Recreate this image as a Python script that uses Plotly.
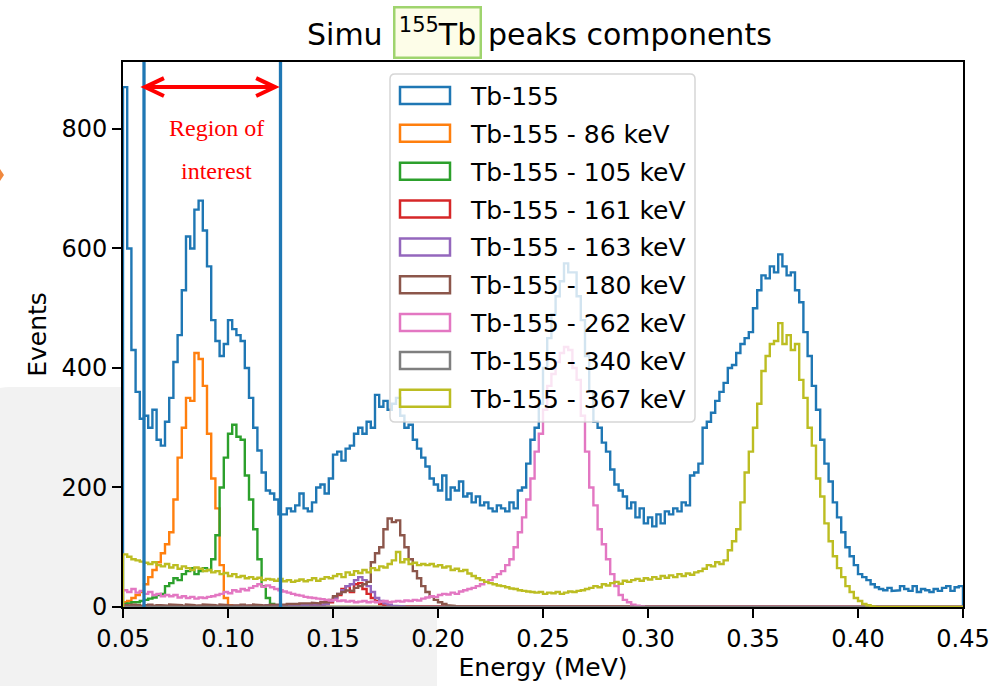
import numpy as np
import plotly.graph_objects as go

# ---------------------------------------------------------------
# Binning of the simulated spectrum (MeV)
# ---------------------------------------------------------------
e_min, e_max, bin_width = 0.05, 0.45, 0.002
edges = np.round(np.arange(e_min, e_max + bin_width / 2, bin_width), 4)
n_bins = len(edges) - 1

# Full Tb-155 spectrum, counts per bin
tb155_total = [
    870, 600, 430, 360, 315, 320, 300, 330, 280, 270,
    310, 350, 410, 455, 530, 620, 600, 665, 680, 630,
    570, 480, 445, 420, 440, 480, 465, 455, 445, 400,
    350, 300, 262, 225, 195, 190, 180, 155, 155, 165,
    160, 170, 190, 165, 160, 175, 200, 205, 190, 215,
    255, 260, 245, 265, 270, 290, 300, 290, 310, 300,
    355, 335, 345, 330, 340, 350, 320, 300, 305, 280,
    265, 250, 235, 215, 205, 195, 220, 180, 200, 195,
    210, 185, 190, 175, 185, 170, 175, 165, 160, 170,
    165, 160, 175, 165, 195, 200, 240, 280, 300, 340,
    400, 450, 490, 520, 545, 575, 560, 560, 520, 480,
    420, 360, 310, 300, 275, 260, 230, 205, 195, 185,
    165, 175, 150, 165, 140, 150, 135, 155, 140, 160,
    155, 165, 160, 175, 170, 220, 225, 240, 300, 310,
    325, 345, 360, 375, 400, 405, 425, 440, 450, 460,
    500, 530, 555, 550, 570, 560, 590, 570, 555, 560,
    530, 510, 460, 420, 370, 330, 280, 240, 210, 175,
    150, 125, 100, 85, 70, 55, 50, 45, 38, 33,
    30, 28, 32, 27, 28, 35, 30, 27, 35, 25,
    30, 28, 25, 30, 27, 32, 35, 27, 33, 35,
]

# Single-line components, counts from the first bin (later bins are empty)
line_86 = [
    8, 10, 15, 20, 25, 38, 50, 62, 75, 90,
    105, 125, 180, 250, 300, 350, 345, 425, 415, 370,
    290, 215, 165, 70, 15, 3,
]
line_105 = [
    5, 6, 8, 8, 10, 12, 14, 16, 20, 22,
    35, 40, 48, 45, 55, 60, 65, 55, 60, 65,
    62, 80, 120, 200, 250, 290, 305, 285, 280, 220,
    180, 130, 80, 35, 15, 5, 2,
]
line_161 = [
    1, 2, 1, 1, 2, 1, 2, 1, 1, 2,
    1, 2, 1, 2, 1, 1, 2, 1, 2, 1,
    2, 1, 2, 2, 1, 2, 1, 2, 2, 1,
    2, 2, 1, 2, 2, 3, 2, 2, 3, 2,
    3, 3, 2, 3, 4, 3, 4, 4, 5, 8,
    15, 20, 30, 35, 25, 38, 40, 30, 22, 15,
    10, 5, 3, 2, 1, 1,
]
line_163 = [
    1, 1, 2, 1, 1, 2, 1, 1, 2, 1,
    2, 1, 1, 2, 1, 2, 1, 1, 2, 1,
    1, 2, 1, 2, 1, 1, 2, 2, 1, 2,
    2, 1, 2, 2, 3, 2, 2, 3, 2, 3,
    3, 2, 3, 3, 4, 3, 4, 4, 5, 10,
    15, 22, 28, 35, 38, 45, 50, 45, 35, 25,
    15, 10, 6, 4, 2, 1, 1,
]
line_180 = [
    3, 2, 4, 3, 2, 3, 4, 2, 3, 3,
    2, 4, 3, 3, 2, 4, 3, 2, 3, 4,
    3, 3, 2, 4, 3, 2, 3, 3, 4, 2,
    3, 4, 3, 2, 3, 4, 3, 3, 4, 5,
    4, 5, 6, 5, 6, 7, 6, 8, 8, 12,
    18, 22, 25, 28, 27, 32, 35, 38, 42, 75,
    90, 100, 130, 148, 142, 145, 120, 100, 80, 60,
    48, 35, 25, 18, 12, 8, 5, 3, 2, 1,
]
line_262 = [
    28, 25, 30, 24, 27, 22, 25, 20, 22, 18,
    20, 18, 20, 16, 18, 15, 17, 14, 16, 15,
    17, 18, 20, 22, 25, 23, 28, 26, 30, 28,
    32, 35, 38, 34, 36, 33, 30, 28, 26, 24,
    22, 20, 19, 17, 16, 15, 14, 13, 12, 11,
    12, 10, 11, 9, 10, 8, 9, 10, 8, 9,
    8, 9, 10, 8, 9, 10, 9, 11, 10, 12,
    11, 14, 16, 18, 17, 20, 22, 21, 24, 22,
    26, 28, 30, 32, 35, 38, 42, 45, 50, 55,
    60, 70, 80, 100, 125, 150, 180, 215, 260, 290,
    330, 370, 390, 410, 425, 435, 430, 400, 380, 320,
    260, 200, 170, 130, 105, 80, 55, 35, 20, 12,
    8, 4, 2, 1,
]
line_340 = []
line_367 = [
    88, 84, 80, 78, 76, 74, 72, 75, 70, 68,
    72, 66, 70, 64, 68, 65, 62, 66, 64, 60,
    62, 58, 60, 55, 57, 52, 55, 50, 52, 48,
    50, 47, 49, 45, 47, 46, 44, 47, 43, 45,
    42, 44, 46, 43, 45, 48, 44, 47, 50, 48,
    52, 55, 50, 58, 54, 60, 57, 62, 58, 65,
    62, 68, 66, 72, 78, 92, 75, 80, 72, 74,
    70, 72, 70, 72, 68, 70, 66, 68, 62, 64,
    60, 62, 56, 52, 48, 45, 42, 40, 38, 36,
    35, 33, 31, 30, 28, 27, 26, 25, 24, 25,
    22, 24, 23, 25, 22, 24, 26, 25, 27, 28,
    30, 32, 35, 33, 38, 36, 40, 42, 39, 44,
    42, 45, 47, 44, 48, 46, 50, 47, 52, 49,
    53, 50, 55, 52, 56, 54, 58, 60, 64, 70,
    68, 75, 72, 78, 95, 110, 130, 175, 225, 260,
    300, 340, 395, 420, 440, 445, 475, 440, 455, 430,
    440, 380, 350, 300, 270, 215, 185, 140, 110, 85,
    65, 50, 35, 25, 15, 10, 5, 3, 1,
]

series_names = [
    "Tb-155", "Tb-155 - 86 keV", "Tb-155 - 105 keV", "Tb-155 - 161 keV",
    "Tb-155 - 163 keV", "Tb-155 - 180 keV", "Tb-155 - 262 keV",
    "Tb-155 - 340 keV", "Tb-155 - 367 keV",
]
series_counts = [tb155_total, line_86, line_105, line_161, line_163,
                 line_180, line_262, line_340, line_367]
series_colors = ["#1f77b4", "#ff7f0e", "#2ca02c", "#d62728", "#9467bd",
                 "#8c564b", "#e377c2", "#7f7f7f", "#bcbd22"]

# Energy window of interest (MeV)
roi_bounds = [0.06, 0.125]

x_ticks = [0.05, 0.10, 0.15, 0.20, 0.25, 0.30, 0.35, 0.40, 0.45]
y_ticks = [0, 200, 400, 600, 800]
y_max = 912

# ---------------------------------------------------------------
# Geometry helpers (plot area in page pixels)
# ---------------------------------------------------------------
W, H = 1008, 686
PL, PR, PT, PB = 123, 963, 62, 607


def fx(px):
    return (px - PL) / (PR - PL)


def fy(py):
    return (PB - py) / (PB - PT)


def rounded_rect(x0, y0, x1, y1, r):
    pts = [
        f"M {fx(x0 + r)},{fy(y0)}", f"L {fx(x1 - r)},{fy(y0)}",
        f"Q {fx(x1)},{fy(y0)} {fx(x1)},{fy(y0 + r)}", f"L {fx(x1)},{fy(y1 - r)}",
        f"Q {fx(x1)},{fy(y1)} {fx(x1 - r)},{fy(y1)}", f"L {fx(x0 + r)},{fy(y1)}",
        f"Q {fx(x0)},{fy(y1)} {fx(x0)},{fy(y1 - r)}", f"L {fx(x0)},{fy(y0 + r)}",
        f"Q {fx(x0)},{fy(y0)} {fx(x0 + r)},{fy(y0)}", "Z",
    ]
    return " ".join(pts)


def step_outline(counts):
    c = np.zeros(n_bins)
    c[:len(counts)] = counts
    xs = np.repeat(edges, 2)
    ys = np.concatenate([[0.0], np.repeat(c, 2), [0.0]])
    return xs, ys


FONT = "DejaVu Sans"
fig = go.Figure()

for name, counts, color in zip(series_names, series_counts, series_colors):
    xs, ys = step_outline(counts)
    fig.add_trace(go.Scatter(
        x=xs, y=ys, mode="lines", name=name,
        line=dict(color=color, width=2.4),
        showlegend=False, hoverinfo="skip",
    ))

shapes = []
# light panel behind the lower-left corner of the page
shapes.append(dict(type="path", xref="paper", yref="paper", layer="below",
                   path=rounded_rect(-20, 387, 437, 720, 30),
                   fillcolor="#f2f2f2", line=dict(width=0)))
shapes.append(dict(type="rect", xref="paper", yref="paper", layer="below",
                   x0=0, x1=1, y0=0, y1=1, fillcolor="white", line=dict(width=0)))
# small orange pointer at the left margin
shapes.append(dict(type="path", xref="paper", yref="paper", layer="above",
                   path=f"M {fx(0)},{fy(169)} L {fx(4)},{fy(175)} L {fx(0)},{fy(181)} Z",
                   fillcolor="#f0883e", line=dict(width=0)))

# window boundaries
for xb in roi_bounds:
    shapes.append(dict(type="line", xref="x", yref="paper", layer="above",
                       x0=xb, x1=xb, y0=0, y1=1,
                       line=dict(color="#1f77b4", width=3.3)))

# red double-headed arrow across the window
arrow_y = 870
arrow_x = [0.0605, 0.1224]
head_len, head_half = 0.0090, 15
red_path = (
    f"M {arrow_x[0]},{arrow_y} L {arrow_x[1]},{arrow_y} "
    f"M {arrow_x[0] + head_len},{arrow_y + head_half} L {arrow_x[0]},{arrow_y} "
    f"L {arrow_x[0] + head_len},{arrow_y - head_half} "
    f"M {arrow_x[1] - head_len},{arrow_y + head_half} L {arrow_x[1]},{arrow_y} "
    f"L {arrow_x[1] - head_len},{arrow_y - head_half}"
)
shapes.append(dict(type="path", xref="x", yref="y", layer="above",
                   path=red_path, line=dict(color="red", width=4)))

# legend frame and patches
shapes.append(dict(type="path", xref="paper", yref="paper", layer="above",
                   path=rounded_rect(390, 74, 695, 422, 5),
                   fillcolor="rgba(255,255,255,0.8)",
                   line=dict(color="rgba(204,204,204,0.8)", width=1.5)))
row0, row_step = 95.5, 37.85
annotations = []
for k, (name, color) in enumerate(zip(series_names, series_colors)):
    yc = row0 + k * row_step
    shapes.append(dict(type="rect", xref="paper", yref="paper", layer="above",
                       x0=fx(400), x1=fx(450), y0=fy(yc + 8.5), y1=fy(yc - 8.5),
                       fillcolor="rgba(0,0,0,0)", line=dict(color=color, width=2.5)))
    annotations.append(dict(xref="paper", yref="paper", x=fx(468), y=fy(yc + 1),
                            xanchor="left", yanchor="middle", text=name,
                            showarrow=False, font=dict(family=FONT, size=25, color="black")))

# title pieces
annotations.append(dict(xref="paper", yref="paper", x=fx(385), y=fy(35),
                        xanchor="right", yanchor="middle", text="Simu", showarrow=False,
                        font=dict(family=FONT, size=30, color="black")))
annotations.append(dict(xref="paper", yref="paper", x=fx(437.5), y=fy(32.5),
                        xanchor="center", yanchor="middle", text="<sup>155</sup>Tb",
                        showarrow=False, width=84, height=48, borderpad=0,
                        bgcolor="#fdfde8", bordercolor="#9fd46e", borderwidth=2.5,
                        font=dict(family=FONT, size=30, color="black")))
annotations.append(dict(xref="paper", yref="paper", x=fx(486), y=fy(35),
                        xanchor="left", yanchor="middle", text="peaks components",
                        showarrow=False, font=dict(family=FONT, size=30, color="black")))

# window label
annotations.append(dict(xref="x", yref="y", x=0.0943, y=802, text="Region of",
                        showarrow=False, xanchor="center", yanchor="middle",
                        font=dict(family="Liberation Serif", size=24, color="red")))
annotations.append(dict(xref="x", yref="y", x=0.0943, y=729, text="interest",
                        showarrow=False, xanchor="center", yanchor="middle",
                        font=dict(family="Liberation Serif", size=24, color="red")))

axis_common = dict(
    showline=True, linecolor="black", linewidth=2, mirror=True,
    ticks="outside", ticklen=9, tickwidth=2, tickcolor="black",
    showgrid=False, zeroline=False, automargin=False,
    tickfont=dict(family=FONT, size=24, color="black"),
)

fig.update_layout(
    width=W, height=H, autosize=False,
    margin=dict(l=PL, r=W - PR, t=PT, b=H - PB, pad=0),
    paper_bgcolor="white", plot_bgcolor="white",
    shapes=shapes, annotations=annotations,
    xaxis=dict(range=[e_min, e_max], tickvals=x_ticks,
               ticktext=[f"{v:.2f}" for v in x_ticks],
               title=dict(text="Energy (MeV)", standoff=2,
                          font=dict(family=FONT, size=25, color="black")),
               ticklabelstandoff=0, **axis_common),
    yaxis=dict(range=[0, y_max], tickvals=y_ticks,
               title=dict(text="Events", standoff=8,
                          font=dict(family=FONT, size=25, color="black")),
               ticklabelstandoff=0, **axis_common),
    showlegend=False,
)

fig.write_html("out.html")
